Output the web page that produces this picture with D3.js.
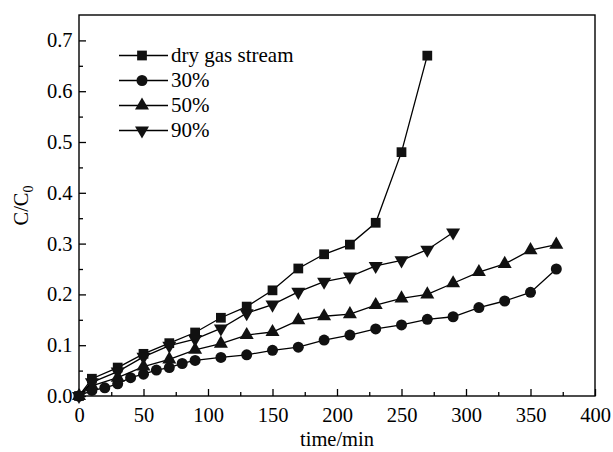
<!DOCTYPE html>
<html>
<head>
<meta charset="utf-8">
<script src="https://cdn.jsdelivr.net/npm/d3@7"></script>
<style>
    body { margin: 0; background: #fff; }
    .tick line { stroke: #000; stroke-width: 1.3; }
    .domain { display: none; }
</style>
</head>
<body>
<div class="vis"></div>
<script>
// data
var seriesNames = ["dry gas stream", "30%", "50%", "90%"];

var dryTime = [0, 10, 30, 50, 70, 90, 110, 130, 150, 170, 190, 210, 230, 250, 270];
var dryValues = [0, 0.034, 0.056, 0.083, 0.104, 0.125, 0.154, 0.176, 0.208, 0.251, 0.279, 0.298, 0.341, 0.48, 0.67];

var rh30Time = [0, 10, 20, 30, 40, 50, 60, 70, 80, 90, 110, 130, 150, 170, 190, 210, 230, 250, 270, 290, 310, 330, 350, 370];
var rh30Values = [0, 0.011, 0.016, 0.024, 0.036, 0.043, 0.051, 0.056, 0.064, 0.070, 0.076, 0.081, 0.090, 0.096, 0.110, 0.120, 0.132, 0.140, 0.151, 0.156, 0.174, 0.187, 0.204, 0.250];

var rh50Time = [0, 10, 30, 50, 70, 90, 110, 130, 150, 170, 190, 210, 230, 250, 270, 290, 310, 330, 350, 370];
var rh50Values = [0, 0.020, 0.036, 0.058, 0.072, 0.091, 0.103, 0.120, 0.126, 0.149, 0.157, 0.161, 0.179, 0.192, 0.200, 0.222, 0.244, 0.260, 0.287, 0.298];

var rh90Time = [0, 10, 30, 50, 70, 90, 110, 130, 150, 170, 190, 210, 230, 250, 270, 290];
var rh90Values = [0, 0.027, 0.048, 0.077, 0.099, 0.112, 0.133, 0.163, 0.180, 0.205, 0.225, 0.235, 0.256, 0.267, 0.288, 0.322];

var xTicks = [0, 50, 100, 150, 200, 250, 300, 350, 400];
var xMinor = [25, 75, 125, 175, 225, 275, 325, 375];
var yTicks = [0, 0.1, 0.2, 0.3, 0.4, 0.5, 0.6, 0.7];
var yMinor = [0.05, 0.15, 0.25, 0.35, 0.45, 0.55, 0.65];

(function () {
    const svgWidth = 613;
    const svgHeight = 452;
    const serif = '"Liberation Serif", "DejaVu Serif", serif';

    const svg = d3.select('.vis')
        .append('svg')
            .attr('width', svgWidth)
            .attr('height', svgHeight)
            .style('font-family', serif);

    var plot = { left: 79, right: 595, top: 15, bottom: 396 };

    var xScale = d3.scaleLinear()
        .domain([0, 400])
        .range([plot.left, plot.right]);

    var yScale = d3.scaleLinear()
        .domain([0, 0.75])
        .range([plot.bottom, plot.top]);

    // minor ticks first, then major with labels
    svg.append('g')
        .attr('transform', `translate(0, ${plot.bottom})`)
        .call(d3.axisBottom(xScale).tickValues(xMinor).tickSize(-4).tickFormat(''));
    var xAxis = svg.append('g')
        .attr('transform', `translate(0, ${plot.bottom})`)
        .call(d3.axisBottom(xScale).tickValues(xTicks).tickSize(-7).tickPadding(11));
    xAxis.attr('font-family', serif).attr('font-size', 20.5);
    xAxis.selectAll('text').attr('fill', '#000');

    svg.append('g')
        .attr('transform', `translate(${plot.left}, 0)`)
        .call(d3.axisLeft(yScale).tickValues(yMinor).tickSize(-4).tickFormat(''));
    var yAxis = svg.append('g')
        .attr('transform', `translate(${plot.left}, 0)`)
        .call(d3.axisLeft(yScale).tickValues(yTicks).tickSize(-7).tickPadding(6.5).tickFormat(d3.format('.1f')));
    yAxis.attr('font-family', serif).attr('font-size', 20.5);
    yAxis.selectAll('text').attr('fill', '#000');

    // frame
    svg.append('rect')
        .attr('x', plot.left)
        .attr('y', plot.top)
        .attr('width', plot.right - plot.left)
        .attr('height', plot.bottom - plot.top)
        .attr('fill', 'none')
        .attr('stroke', '#000')
        .attr('stroke-width', 1.4);

    // axis titles
    svg.append('text')
        .attr('x', (plot.left + plot.right) / 2)
        .attr('y', 446)
        .attr('text-anchor', 'middle')
        .attr('font-family', serif)
        .attr('font-size', 20.5)
        .text('time/min');

    var yTitle = svg.append('text')
        .attr('transform', `translate(28, ${(plot.top + plot.bottom) / 2}) rotate(-90)`)
        .attr('text-anchor', 'middle')
        .attr('font-family', serif)
        .attr('font-size', 20.5);
    yTitle.append('tspan').text('C/C');
    yTitle.append('tspan').attr('dy', 5).attr('font-size', 14).text('0');

    var series = [
        { name: seriesNames[0], time: dryTime, values: dryValues, symbol: d3.symbolSquare, size: 95, rot: 0 },
        { name: seriesNames[1], time: rh30Time, values: rh30Values, symbol: d3.symbolCircle, size: 95, rot: 0 },
        { name: seriesNames[2], time: rh50Time, values: rh50Values, symbol: d3.symbolTriangle, size: 85, rot: 0 },
        { name: seriesNames[3], time: rh90Time, values: rh90Values, symbol: d3.symbolTriangle, size: 85, rot: 180 }
    ];

    var line = d3.line()
        .x(function (d) { return xScale(d[0]); })
        .y(function (d) { return yScale(d[1]); });

    series.forEach(function (s) {
        var pts = s.time.map(function (t, i) { return [t, s.values[i]]; });
        svg.append('path')
            .datum(pts)
            .attr('d', line)
            .attr('fill', 'none')
            .attr('stroke', '#000')
            .attr('stroke-width', 1.3);
        svg.append('g')
            .selectAll('path')
            .data(pts)
            .enter().append('path')
                .attr('d', d3.symbol().type(s.symbol).size(s.size))
                .attr('transform', function (d) {
                    return `translate(${xScale(d[0])}, ${yScale(d[1])}) rotate(${s.rot})`;
                })
                .attr('fill', '#111');
    });

    // legend
    var legend = svg.append('g');
    series.forEach(function (s, i) {
        var y = 55.5 + i * 25;
        legend.append('line')
            .attr('x1', 119).attr('x2', 168)
            .attr('y1', y).attr('y2', y)
            .attr('stroke', '#000')
            .attr('stroke-width', 1.3);
        legend.append('path')
            .attr('d', d3.symbol().type(s.symbol).size(s.size))
            .attr('transform', `translate(142, ${y}) rotate(${s.rot})`)
            .attr('fill', '#111');
        legend.append('text')
            .attr('x', 171)
            .attr('y', y)
            .attr('dy', '0.33em')
            .attr('font-family', serif)
            .attr('font-size', 21)
            .text(s.name);
    });
} ());
</script>
</body>
</html>
